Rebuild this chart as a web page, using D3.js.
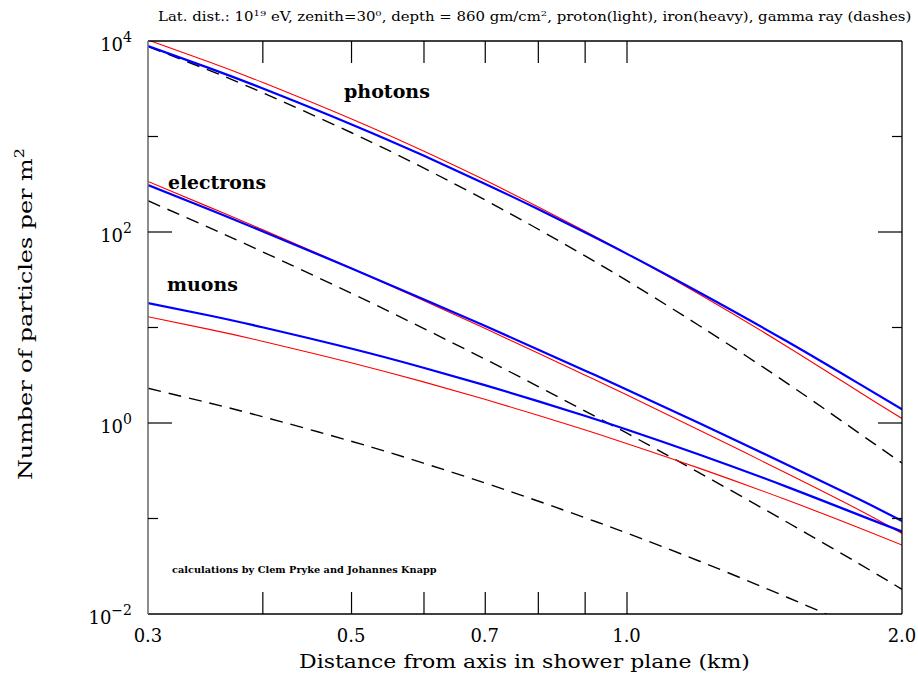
<!DOCTYPE html>
<html><head><meta charset="utf-8">
<script src="https://cdn.jsdelivr.net/npm/d3@7"></script>
<style>body{margin:0;background:#fff}svg{display:block}</style>
</head><body>
<svg id="chart" width="918" height="676"></svg>
<script>
// ---- data ----
const distances = [0.3,0.35,0.4,0.5,0.6,0.7,0.8,0.9,1.0,1.2,1.5,1.8,2.0];
const photonsProton   = [10245,6028,3693,1532,703,349.5,184,102.7,59.7,22.4,6.26,2.086,1.115];
const photonsIron     = [8863,5203,3197,1345,631,321,173.7,99.3,59.4,23.4,7.09,2.536,1.392];
const photonsGamma    = [8758,4922,2882,1101,469,217.4,107.5,56.6,31.1,10.5,2.585,0.769,0.381];
const electronsProton = [338,182.2,105.9,41.9,19.17,9.81,5.41,3.19,1.974,0.847,0.294,0.1213,0.0697];
const electronsIron   = [310.5,171.6,102,41.8,19.79,10.42,5.90,3.555,2.243,1.0,0.364,0.157,0.0941];
const electronsGamma  = [212.7,110.9,62.2,22.9,9.79,4.68,2.423,1.342,0.786,0.302,0.0908,0.0331,0.01814];
const muonsProton     = [12.98,9.55,7.19,4.28,2.694,1.771,1.207,0.849,0.6115,0.337,0.1551,0.0791,0.0528];
const muonsIron       = [18.05,13.36,10.07,6.03,3.795,2.494,1.696,1.19,0.855,0.468,0.2132,0.1078,0.0731];
const muonsGamma      = [2.309,1.62,1.167,0.645,0.380,0.236,0.1525,0.1022,0.0705,0.0359,0.01489,0.00697,0.00441];

const xTickValues = [0.3,0.4,0.5,0.6,0.7,0.8,0.9,1.0,2.0];
const xTickLabels = ["0.3","","0.5","","0.7","","","1.0","2.0"];
const yTickValues = [1e4,1e3,1e2,1e1,1,1e-1,1e-2];
const yLabelExponents = ["4",null,"2",null,"0",null,"\u22122"];
const curveLabels = ["photons","electrons","muons"];
const title = ["Lat. dist.: 10",["19"]," eV, zenith=30",["0"],", depth = 860 gm/cm",["2"],", proton(light), iron(heavy), gamma ray (dashes)"];

// ---- layout ----
const svg = d3.select("#chart");
const L = 148, R = 902, T = 41, B = 614;
const x = d3.scaleLog().domain([0.3, 2.0]).range([L, R]);
const y = d3.scaleLog().domain([1e-2, 1e4]).range([B, T]);
const serif = "'DejaVu Serif', 'Liberation Serif', serif";

function fit(g, width) {
  const t = g.select("text");
  const w = t.node().getBBox().width;
  t.attr("transform", `scale(${width / w},1)`);
}

// clip
svg.append("clipPath").attr("id","clip").append("rect")
  .attr("x", L).attr("y", T).attr("width", R-L).attr("height", B-T);

// ---- curves ----
const line = d3.line().x(d => x(d[0])).y(d => y(d[1])).curve(d3.curveNatural);
const series = [
  {v: photonsGamma,   c: "#000", w: 1.4, dash: "13,8"},
  {v: electronsGamma, c: "#000", w: 1.4, dash: "13,8"},
  {v: muonsGamma,     c: "#000", w: 1.4, dash: "13,8"},
  {v: photonsProton,  c: "#ff0000", w: 1.1},
  {v: electronsProton,c: "#ff0000", w: 1.1},
  {v: muonsProton,    c: "#ff0000", w: 1.1},
  {v: photonsIron,    c: "#0000ff", w: 2.2},
  {v: electronsIron,  c: "#0000ff", w: 2.2},
  {v: muonsIron,      c: "#0000ff", w: 2.2}
];
const cg = svg.append("g").attr("clip-path","url(#clip)");
series.forEach(s => {
  cg.append("path")
    .datum(distances.map((d,i) => [d, s.v[i]]))
    .attr("d", line)
    .attr("fill","none")
    .attr("stroke", s.c)
    .attr("stroke-width", s.w)
    .attr("stroke-dasharray", s.dash || null);
});

// ---- frame ----
svg.append("line").attr("x1",L).attr("x2",R).attr("y1",T).attr("y2",T).attr("stroke","#000").attr("stroke-width",1.3);
svg.append("line").attr("x1",L).attr("x2",R).attr("y1",B).attr("y2",B).attr("stroke","#000").attr("stroke-width",1.3);
svg.append("line").attr("x1",R).attr("x2",R).attr("y1",T).attr("y2",B).attr("stroke","#000").attr("stroke-width",1.3);
svg.append("line").attr("x1",L).attr("x2",L).attr("y1",T).attr("y2",B).attr("stroke","#707070").attr("stroke-width",1.6);

// ---- x ticks via axes ----
const inner = xTickValues.filter(v => v > 0.3 && v < 2.0);
svg.append("g").attr("transform",`translate(0,${B})`)
  .call(d3.axisTop(x).tickValues(inner).tickSize(22).tickFormat(""))
  .call(g => { g.select(".domain").remove(); g.selectAll("line").attr("stroke","#000").attr("stroke-width",1.2); });
svg.append("g").attr("transform",`translate(0,${T})`)
  .call(d3.axisBottom(x).tickValues(inner).tickSize(22).tickFormat(""))
  .call(g => { g.select(".domain").remove(); g.selectAll("line").attr("stroke","#000").attr("stroke-width",1.2); });

// x tick labels
xTickValues.forEach((v,i) => {
  if (!xTickLabels[i]) return;
  svg.append("text").attr("x", x(v)).attr("y", 642)
    .attr("text-anchor","middle").attr("font-family",serif).attr("font-size",18)
    .text(xTickLabels[i]);
});

// ---- y ticks ----
const innerY = yTickValues.filter(v => v > 1e-2 && v < 1e4);
const majorY = v => Math.round(Math.log10(v)) % 2 === 0;
innerY.forEach(v => {
  const len = majorY(v) ? 24 : 10;
  svg.append("line").attr("x1",L).attr("x2",L+len).attr("y1",y(v)).attr("y2",y(v)).attr("stroke","#000").attr("stroke-width",1.2);
  svg.append("line").attr("x1",R-len).attr("x2",R).attr("y1",y(v)).attr("y2",y(v)).attr("stroke","#000").attr("stroke-width",1.2);
});
yTickValues.forEach((v,i) => {
  const e = yLabelExponents[i];
  if (e === null) return;
  const t = svg.append("text").attr("x", 132).attr("y", y(v) + 10)
    .attr("text-anchor","end").attr("font-family",serif).attr("font-size",18);
  t.append("tspan").text("10");
  t.append("tspan").attr("dy",-9).attr("font-size",14).text(e);
});

// ---- titles ----
const tg = svg.append("g").attr("transform","translate(158,16)");
const tt = tg.append("text").attr("font-family",serif).attr("font-size",12);
title.forEach(p => {
  if (Array.isArray(p)) tt.append("tspan").attr("dy",-5).attr("font-size",8).text(p[0]);
  else tt.append("tspan").attr("dy", tt.selectAll("tspan").size() ? 5 : 0).text(p);
});
fit(tg, 754);

const xg = svg.append("g").attr("transform","translate(299,668)");
xg.append("text").attr("font-family",serif).attr("font-size",19).text("Distance from axis in shower plane (km)");
fit(xg, 451);

const yg = svg.append("g").attr("transform","translate(32,480) rotate(-90)");
const yt = yg.append("text").attr("font-family",serif).attr("font-size",18);
yt.append("tspan").text("Number of particles per m");
yt.append("tspan").attr("dy",-8).attr("font-size",12).text("2");
fit(yg, 332);

// curve labels
const labelPos = [[344,98,86],[168,189,98],[167,291,71]];
curveLabels.forEach((s,i) => {
  const g = svg.append("g").attr("transform",`translate(${labelPos[i][0]},${labelPos[i][1]})`);
  g.append("text").attr("font-family",serif).attr("font-weight","bold").attr("font-size",19).text(s);
  fit(g, labelPos[i][2]);
});

const ng = svg.append("g").attr("transform","translate(172,573)");
ng.append("text").attr("font-family",serif).attr("font-weight","bold").attr("font-size",10)
  .text("calculations by Clem Pryke and Johannes Knapp");
fit(ng, 265);
</script>
</body></html>
